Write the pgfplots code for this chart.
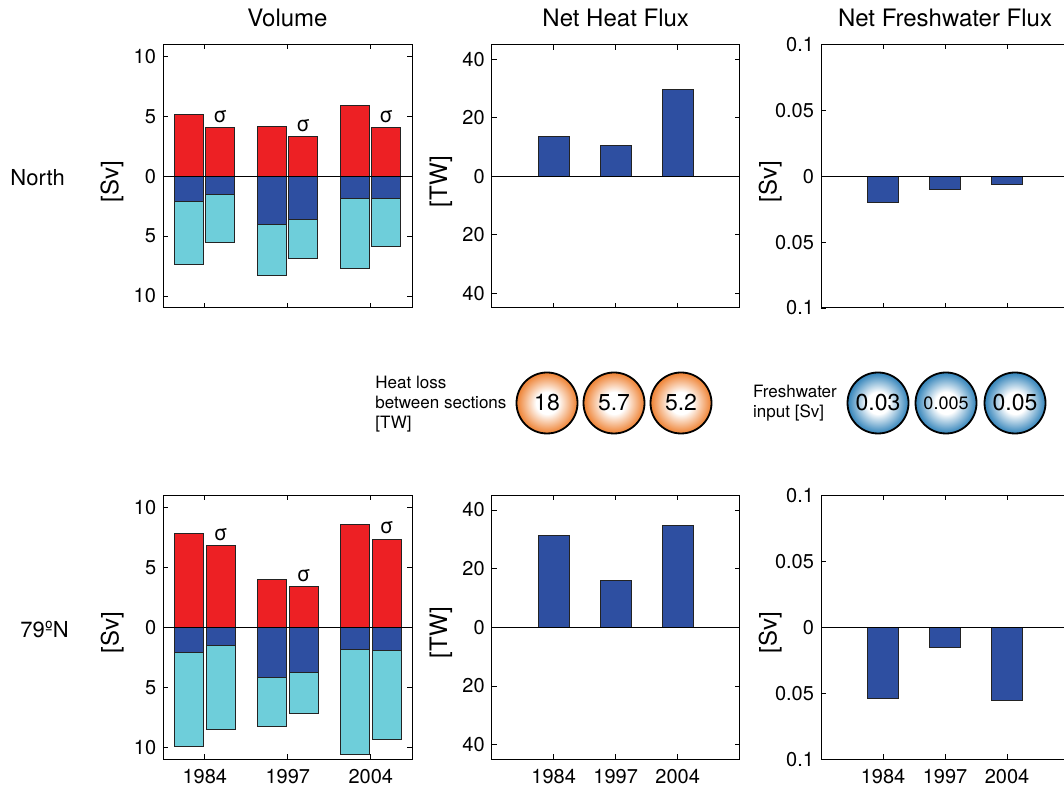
\documentclass[border=0pt]{standalone}
\usepackage{pgfplots}
\pgfplotsset{compat=1.18}
\usepackage{pgfplotstable}
\usepackage{fontspec}
\setmainfont{TeX Gyre Heros}

\definecolor{cred}{RGB}{237,32,36}
\definecolor{cblue}{RGB}{46,79,161}
\definecolor{ccyan}{RGB}{110,206,218}
\definecolor{cedge}{RGB}{35,35,35}
\definecolor{corange}{RGB}{238,128,48}
\definecolor{cball}{RGB}{48,130,185}

\pgfdeclareradialshading{orangeball}{\pgfpointorigin}{color(0bp)=(white); color(9bp)=(white); color(25bp)=(corange); color(50bp)=(corange)}
\pgfdeclareradialshading{blueball}{\pgfpointorigin}{color(0bp)=(white); color(9bp)=(white); color(25bp)=(cball); color(50bp)=(cball)}

% Volume transport [Sv]: red = northward, blue/cyan = southward components
\pgfplotstableread{
x red blue cyan sred sblue scyan
1 5.19 -2.08 -7.36 4.08 -1.56 -5.56
2 4.17 -4.06 -8.25 3.31 -3.61 -6.89
3 5.89 -1.89 -7.67 4.08 -1.89 -5.86
}\volN
\pgfplotstableread{
x red blue cyan sred sblue scyan
1 7.80 -2.14 -9.94 6.80 -1.53 -8.50
2 4.01 -4.15 -8.27 3.40 -3.73 -7.16
3 8.58 -1.87 -10.56 7.35 -1.92 -9.39
}\volS
\pgfplotstableread{
x y
1 13.6
2 10.4
3 29.7
}\heatN
\pgfplotstableread{
x y
1 31.2
2 16.0
3 34.7
}\heatS
\pgfplotstableread{
x y
1 -0.020
2 -0.010
3 -0.006
}\fwN
\pgfplotstableread{
x y
1 -0.054
2 -0.015
3 -0.0557
}\fwS

\pgfplotsset{
  panel/.style={
    scale only axis, width=124pt, height=131.75pt,
    xmin=0, xmax=4, xtick={1,2,3},
    tick align=inside, major tick length=2.5pt,
    every tick/.style={black, line width=0.4pt},
    axis line style={black, line width=0.5pt},
    tick label style={font=\fontsize{10}{11}\selectfont},
    /pgf/number format/assume math mode=true,
    ylabel style={font=\fontsize{12}{13}\selectfont, at={(axis description cs:-0.205,0.48)}, anchor=center},
    every axis title/.style={font=\fontsize{12}{13}\selectfont, at={(axis description cs:0.5,1)}, anchor=center, yshift=13.2pt},
    xticklabel style={yshift=-1.5pt},
    clip=false,
  },
  volpanel/.style={panel, width=124.5pt, xmin=0.5, xmax=3.5, ymin=-11, ymax=11,
    ytick={-10,-5,0,5,10}, yticklabels={10,5,0,5,10}, ylabel={[Sv]}},
  heatpanel/.style={panel, ymin=-45, ymax=45,
    ytick={-40,-20,0,20,40}, yticklabels={40,20,0,20,40}, ylabel={[TW]}},
  fwpanel/.style={panel, ymin=-0.1, ymax=0.1,
    ytick={-0.1,-0.05,0,0.05,0.1}, yticklabels={0.1,0.05,0,0.05,0.1}, ylabel={[Sv]}},
  vb/.style={ybar, bar width=0.35, draw=cedge, line width=0.5pt},
  sb/.style={ybar, bar width=0.5, draw=cedge, line width=0.5pt, fill=cblue, bar shift=0},
}
\newcommand{\zeroline}{\draw[black, line width=0.5pt] ({rel axis cs:0,0}|-{axis cs:1,0}) -- ({rel axis cs:1,0}|-{axis cs:1,0});}
\newcommand{\sig}{\fontsize{10.5}{10.5}\selectfont}

\begin{document}
\begin{tikzpicture}
\useasboundingbox (0,0) rectangle (532pt,395pt);
\clip (0,0) rectangle (532pt,395pt);

% ---------- North row ----------
\begin{axis}[volpanel, at={(81.5pt,241pt)}, anchor=south west, title={Volume}, xticklabels={}]
\addplot[vb, bar shift=-0.19, fill=ccyan] table[x=x,y=cyan]{\volN};
\addplot[vb, bar shift=-0.19, fill=cblue] table[x=x,y=blue]{\volN};
\addplot[vb, bar shift=-0.19, fill=cred] table[x=x,y=red]{\volN};
\addplot[vb, bar shift=0.19, fill=ccyan] table[x=x,y=scyan]{\volN};
\addplot[vb, bar shift=0.19, fill=cblue] table[x=x,y=sblue]{\volN};
\addplot[vb, bar shift=0.19, fill=cred] table[x=x,y=sred]{\volN};
\zeroline
\node[font=\sig, yshift=5.5pt] at (axis cs:1.19,4.08) {σ};
\node[font=\sig, yshift=5.5pt] at (axis cs:2.19,3.31) {σ};
\node[font=\sig, yshift=5.5pt] at (axis cs:3.19,4.08) {σ};
\end{axis}

\begin{axis}[heatpanel, at={(245.85pt,241pt)}, anchor=south west, title={Net Heat Flux}, xticklabels={}]
\addplot[sb] table[x=x,y=y]{\heatN};
\zeroline
\end{axis}

\begin{axis}[fwpanel, at={(410.5pt,241pt)}, anchor=south west, title={Net Freshwater Flux}, xticklabels={}]
\addplot[sb] table[x=x,y=y]{\fwN};
\zeroline
\end{axis}

% ---------- 79N row ----------
\begin{axis}[volpanel, height=132pt, at={(81.65pt,15.35pt)}, anchor=south west, xticklabels={1984,1997,2004}]
\addplot[vb, bar shift=-0.19, fill=ccyan] table[x=x,y=cyan]{\volS};
\addplot[vb, bar shift=-0.19, fill=cblue] table[x=x,y=blue]{\volS};
\addplot[vb, bar shift=-0.19, fill=cred] table[x=x,y=red]{\volS};
\addplot[vb, bar shift=0.19, fill=ccyan] table[x=x,y=scyan]{\volS};
\addplot[vb, bar shift=0.19, fill=cblue] table[x=x,y=sblue]{\volS};
\addplot[vb, bar shift=0.19, fill=cred] table[x=x,y=sred]{\volS};
\zeroline
\node[font=\sig, yshift=5.5pt] at (axis cs:1.19,6.80) {σ};
\node[font=\sig, yshift=5.5pt] at (axis cs:2.19,3.40) {σ};
\node[font=\sig, yshift=5.5pt] at (axis cs:3.19,7.35) {σ};
\end{axis}

\begin{axis}[heatpanel, height=132pt, at={(245.85pt,15.35pt)}, anchor=south west, xticklabels={1984,1997,2004}]
\addplot[sb] table[x=x,y=y]{\heatS};
\zeroline
\end{axis}

\begin{axis}[fwpanel, height=132pt, at={(410.5pt,15.35pt)}, anchor=south west, xticklabels={1984,1997,2004}]
\addplot[sb] table[x=x,y=y]{\fwS};
\zeroline
\end{axis}

% ---------- row labels ----------
\node[anchor=west, inner sep=0, font=\fontsize{11}{12}\selectfont] at (5pt,306pt) {North};
\node[anchor=west, inner sep=0, font=\fontsize{11}{12}\selectfont] at (10pt,80pt) {79ºN};

% ---------- middle annotations ----------
\node[anchor=west, align=left, inner sep=0, font=\fontsize{8.5}{10}\selectfont] at (187.5pt,193pt) {Heat loss\\between sections\\{[TW]}};
\node[anchor=west, align=left, inner sep=0, font=\fontsize{8.5}{10}\selectfont] at (376.35pt,193.5pt) {Freshwater\\input [Sv]};

\foreach \cx/\t in {273.5/18, 307/5.7, 340.5/5.2}
  \node[circle, minimum size=30.5pt, inner sep=0, draw=black, line width=0.9pt, shade, shading=orangeball, font=\fontsize{11.5}{12}\selectfont] at (\cx pt,193.5pt) {\t};
\node[circle, minimum size=30.5pt, inner sep=0, draw=black, line width=0.9pt, shade, shading=blueball, font=\fontsize{11.5}{12}\selectfont] at (439pt,193.5pt) {0.03};
\node[circle, minimum size=30.5pt, inner sep=0, draw=black, line width=0.9pt, shade, shading=blueball, font=\fontsize{9}{10}\selectfont] at (473pt,193.5pt) {0.005};
\node[circle, minimum size=30.5pt, inner sep=0, draw=black, line width=0.9pt, shade, shading=blueball, font=\fontsize{11.5}{12}\selectfont] at (507.5pt,193.5pt) {0.05};
\end{tikzpicture}
\end{document}
